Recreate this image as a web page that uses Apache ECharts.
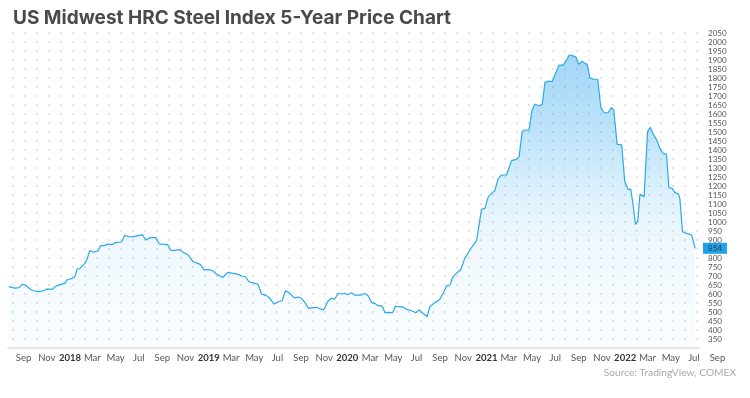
<!DOCTYPE html>
<html>
<head>
<meta charset="utf-8">
<title>US Midwest HRC Steel Index 5-Year Price Chart</title>
<script src="https://cdn.jsdelivr.net/npm/echarts@6/dist/echarts.min.js"></script>
<style>
  html, body { margin: 0; padding: 0; background: #fff; }
  #chart { width: 750px; height: 398px; }
</style>
</head>
<body>
<div id="chart"></div>
<script>
// weekly-ish closes (USD / short ton)
var dates = [
  '2017-07-24', '2017-08-09', '2017-08-20', '2017-08-28', '2017-09-05', '2017-09-18', '2017-09-27', '2017-10-02',
  '2017-10-12', '2017-10-23', '2017-11-01', '2017-11-16', '2017-11-25', '2017-12-10', '2017-12-19', '2017-12-24',
  '2018-01-05', '2018-01-14', '2018-01-20', '2018-01-27', '2018-02-09', '2018-02-15', '2018-02-22', '2018-03-03',
  '2018-03-16', '2018-03-22', '2018-04-03', '2018-04-11', '2018-04-20', '2018-05-03', '2018-05-17', '2018-05-25',
  '2018-06-07', '2018-06-16', '2018-06-29', '2018-07-11', '2018-07-20', '2018-07-30', '2018-08-15', '2018-08-24',
  '2018-09-08', '2018-09-15', '2018-09-23', '2018-10-01', '2018-10-08', '2018-10-17', '2018-10-26', '2018-11-08',
  '2018-11-21', '2018-12-04', '2018-12-11', '2018-12-20', '2018-12-31', '2019-01-13', '2019-01-24', '2019-02-08',
  '2019-02-20', '2019-03-06', '2019-03-20', '2019-03-29', '2019-04-08', '2019-04-17', '2019-05-03', '2019-05-11',
  '2019-05-20', '2019-06-02', '2019-06-11', '2019-06-22', '2019-07-03', '2019-07-13', '2019-07-22', '2019-08-03',
  '2019-08-14', '2019-08-26', '2019-09-02', '2019-09-13', '2019-09-21', '2019-10-03', '2019-10-12', '2019-10-22',
  '2019-10-31', '2019-11-10', '2019-11-20', '2019-11-29', '2019-12-08', '2019-12-17', '2019-12-26', '2020-01-01',
  '2020-01-12', '2020-01-21', '2020-02-07', '2020-02-16', '2020-02-25', '2020-03-05', '2020-03-13', '2020-03-22',
  '2020-04-02', '2020-04-09', '2020-04-17', '2020-04-29', '2020-05-07', '2020-05-16', '2020-05-25', '2020-06-05',
  '2020-06-18', '2020-06-29', '2020-07-08', '2020-07-18', '2020-07-29', '2020-08-05', '2020-08-18', '2020-08-30',
  '2020-09-09', '2020-09-18', '2020-09-27', '2020-10-05', '2020-10-14', '2020-10-25', '2020-11-05', '2020-11-16',
  '2020-11-27', '2020-12-06', '2020-12-19', '2020-12-28', '2021-01-06', '2021-01-17', '2021-01-23', '2021-02-01',
  '2021-02-10', '2021-02-23', '2021-02-27', '2021-03-08', '2021-03-21', '2021-03-28', '2021-04-05', '2021-04-12',
  '2021-04-23', '2021-05-01', '2021-05-08', '2021-05-22', '2021-05-28', '2021-06-04', '2021-06-12', '2021-06-23',
  '2021-07-02', '2021-07-11', '2021-07-22', '2021-07-31', '2021-08-07', '2021-08-15', '2021-08-24', '2021-09-01',
  '2021-09-10', '2021-09-17', '2021-09-23', '2021-09-30', '2021-10-09', '2021-10-21', '2021-10-29', '2021-11-07',
  '2021-11-17', '2021-11-26', '2021-12-02', '2021-12-11', '2021-12-23', '2021-12-31', '2022-01-09', '2022-01-16',
  '2022-01-22', '2022-01-28', '2022-02-03', '2022-02-09', '2022-02-20', '2022-03-01', '2022-03-08', '2022-03-16',
  '2022-03-25', '2022-04-02', '2022-04-11', '2022-04-20', '2022-04-26', '2022-05-05', '2022-05-12', '2022-05-21',
  '2022-05-25', '2022-06-01', '2022-06-12', '2022-06-25', '2022-06-29', '2022-07-04'
]
var prices = [
  641, 633, 635, 654, 650, 628, 618, 622,
  613, 618, 628, 626, 644, 655, 659, 678,
  685, 696, 739, 741, 770, 793, 841, 833,
  839, 867, 870, 878, 874, 887, 889, 926,
  918, 917, 924, 928, 900, 913, 913, 878,
  876, 874, 844, 841, 844, 846, 832, 817,
  779, 770, 763, 733, 737, 728, 706, 693,
  720, 715, 709, 700, 696, 668, 659, 654,
  600, 591, 576, 544, 557, 561, 618, 604,
  578, 583, 576, 548, 520, 524, 526, 517,
  511, 557, 576, 572, 604, 600, 604, 596,
  607, 594, 594, 604, 589, 552, 548, 535,
  533, 496, 498, 496, 533, 529, 529, 515,
  507, 496, 511, 493, 474, 529, 552, 567,
  604, 644, 650, 696, 715, 733, 798, 835,
  872, 896, 1070, 1076, 1141, 1163, 1174, 1242,
  1261, 1261, 1270, 1341, 1348, 1363, 1502, 1511,
  1511, 1622, 1654, 1646, 1654, 1776, 1783, 1780,
  1826, 1872, 1872, 1900, 1928, 1924, 1918, 1876,
  1894, 1881, 1876, 1802, 1793, 1793, 1635, 1607,
  1607, 1635, 1622, 1431, 1428, 1224, 1181, 1181,
  1094, 987, 1002, 1154, 1141, 1502, 1526, 1487,
  1456, 1409, 1381, 1376, 1191, 1187, 1163, 1156,
  1131, 946, 937, 928, 918, 854
]
// x tick labels, every second month
var tickDates = [
  '2017-09-01', '2017-11-01',
  '2018-01-01', '2018-03-01', '2018-05-01', '2018-07-01', '2018-09-01', '2018-11-01',
  '2019-01-01', '2019-03-01', '2019-05-01', '2019-07-01', '2019-09-01', '2019-11-01',
  '2020-01-01', '2020-03-01', '2020-05-01', '2020-07-01', '2020-09-01', '2020-11-01',
  '2021-01-01', '2021-03-01', '2021-05-01', '2021-07-01', '2021-09-01', '2021-11-01',
  '2022-01-01', '2022-03-01', '2022-05-01', '2022-07-01', '2022-09-01'
]
var monthNames = ['Jan', 'Feb', 'Mar', 'Apr', 'May', 'Jun', 'Jul', 'Aug', 'Sep', 'Oct', 'Nov', 'Dec']
var yMin = 300
var yMax = 2050
var yStep = 50
var xStart = '2017-07-22'
var xEnd = '2022-07-17'

var parse = echarts.time.parse
var font = 'Lato'
var blue = '#29a9ee'

var seriesData = dates.map(function (d, i) { return [+parse(d), prices[i]] })
var lastPrice = prices[prices.length - 1]

// the label strip is wider than the plot so the trailing "Sep" fits under the price scale
var minTs = +parse(xStart)
var maxTs = +parse(xEnd)
var plotLeft = 8
var plotRight = 50
var labelRight = 20
var plotW = 750 - plotLeft - plotRight
var labelW = 750 - plotLeft - labelRight
var labelMaxTs = minTs + (maxTs - minTs) * labelW / plotW

function rgba (a) { return 'rgba(41,163,236,' + a + ')' }

var chart = echarts.init(document.getElementById('chart'), null, { renderer: 'canvas' })
chart.setOption({
  animation: false,
  textStyle: { fontFamily: font },
  title: [
    {
      text: 'US Midwest HRC Steel Index 5-Year Price Chart',
      left: 8,
      top: 4,
      textStyle: { fontFamily: 'Inter', fontSize: 19, fontWeight: 'bold', color: '#4a4a4a' }
    },
    {
      text: 'Source: TradingView, COMEX',
      right: 9,
      top: 363,
      textStyle: { fontFamily: font, fontSize: 10.2, fontWeight: 'normal', color: '#a8a8a8' }
    }
  ],
  grid: [
    { left: plotLeft, right: plotRight, top: 33, bottom: 50 },
    { left: plotLeft, right: labelRight, top: 33, bottom: 50 }
  ],
  xAxis: [
    {
      type: 'value',
      gridIndex: 0,
      min: minTs,
      max: maxTs,
      axisLine: { show: true, lineStyle: { color: '#e8e8e8', width: 2 } },
      axisTick: { show: false },
      axisLabel: { show: false },
      splitLine: { show: false }
    },
    {
      type: 'value',
      gridIndex: 1,
      min: minTs,
      max: labelMaxTs,
      axisLine: { show: false },
      axisTick: { show: false },
      splitLine: { show: false },
      axisLabel: {
        margin: 5,
        fontSize: 9.5,
        color: '#555',
        fontFamily: font,
        hideOverlap: false,
        customValues: tickDates.map(function (d) { return +parse(d) }),
        formatter: function (v) {
          var d = new Date(v)
          if (d.getMonth() === 0) return '{y|' + d.getFullYear() + '}'
          return monthNames[d.getMonth()]
        },
        rich: {
          y: { fontSize: 9.5, fontWeight: 'bold', color: '#333', fontFamily: font }
        }
      }
    }
  ],
  yAxis: [
    {
      type: 'value',
      gridIndex: 0,
      position: 'right',
      min: yMin,
      max: yMax,
      interval: yStep,
      axisLine: { show: false },
      axisTick: { show: false },
      axisLabel: {
        showMinLabel: false,
        margin: 8,
        fontSize: 8,
        color: '#555',
        fontFamily: font,
        formatter: function (v) { return String(v) }
      },
      splitLine: {
        show: true,
        lineStyle: { color: '#e4e4e4', width: 2, type: [2, 10], dashOffset: 8 }
      }
    },
    { type: 'value', gridIndex: 1, show: false, min: 0, max: 1 }
  ],
  series: [
    {
      name: 'US Midwest HRC',
      type: 'line',
      xAxisIndex: 0,
      yAxisIndex: 0,
      data: seriesData,
      showSymbol: false,
      smooth: false,
      lineStyle: { color: blue, width: 1.2 },
      itemStyle: { color: blue },
      areaStyle: {
        color: new echarts.graphic.LinearGradient(0, 0, 0, 1, [
          { offset: 0, color: rgba(0.62) },
          { offset: 0.26, color: rgba(0.44) },
          { offset: 0.5, color: rgba(0.2) },
          { offset: 0.65, color: rgba(0.1) },
          { offset: 1, color: rgba(0.03) }
        ])
      },
      markLine: {
        silent: true,
        symbol: 'none',
        lineStyle: { color: 'transparent', width: 0 },
        data: [{ yAxis: lastPrice }],
        label: {
          show: true,
          position: 'end',
          distance: 3,
          formatter: String(lastPrice),
          backgroundColor: '#1ea2ee',
          color: '#3a3a3a',
          fontFamily: font,
          fontSize: 8,
          padding: [2, 5, 1, 5]
        }
      }
    }
  ]
})
</script>
</body>
</html>
